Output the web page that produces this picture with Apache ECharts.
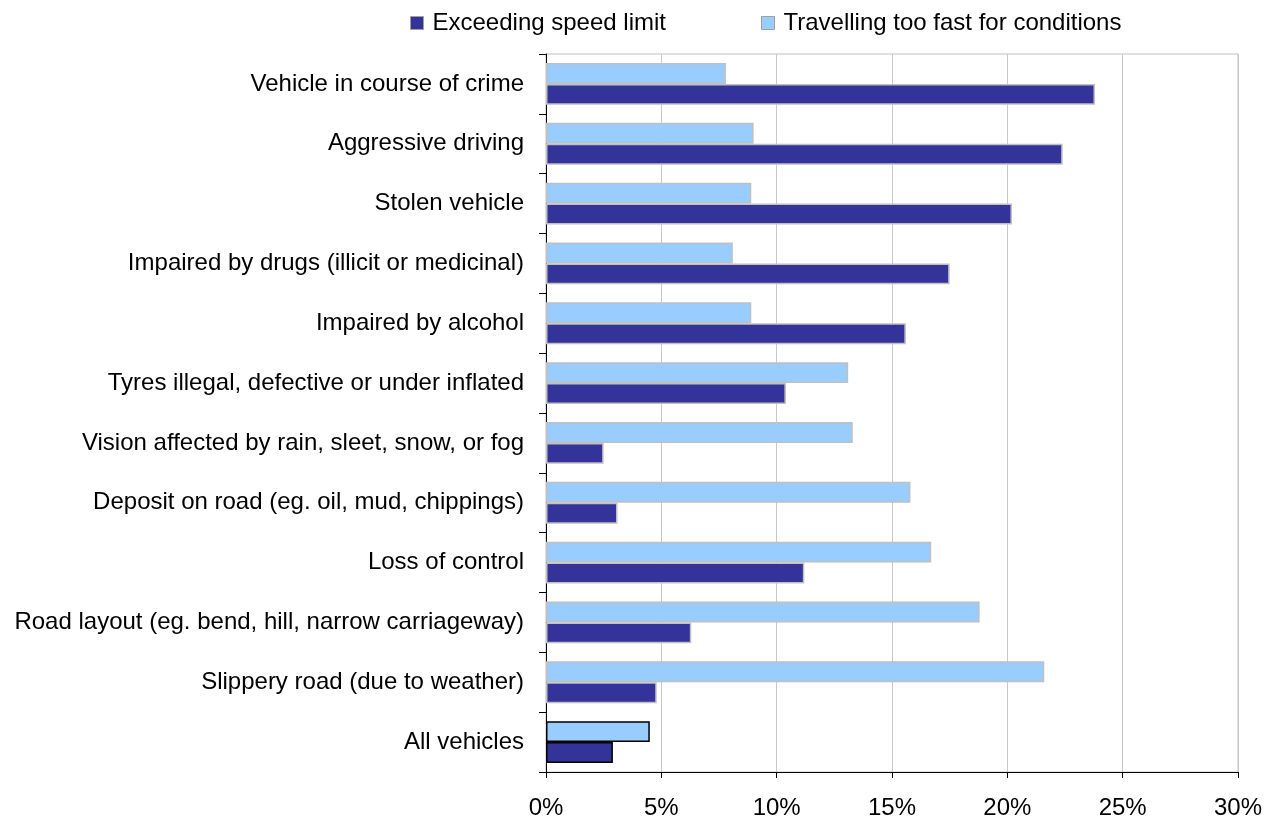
<!DOCTYPE html>
<html><head><meta charset="utf-8">
<script src="https://cdn.jsdelivr.net/npm/echarts@6/dist/echarts.min.js"></script>
<style>html,body{margin:0;padding:0;background:#fff}#c{width:1274px;height:818px}</style>
</head><body><div id="c"></div>
<script>
const categories = [
  "Vehicle in course of crime",
  "Aggressive driving",
  "Stolen vehicle",
  "Impaired by drugs (illicit or medicinal)",
  "Impaired by alcohol",
  "Tyres illegal, defective or under inflated",
  "Vision affected by rain, sleet, snow, or fog",
  "Deposit on road (eg. oil, mud, chippings)",
  "Loss of control",
  "Road layout (eg. bend, hill, narrow carriageway)",
  "Slippery road (due to weather)",
  "All vehicles"
];
const exceedingSpeedLimit = [23.8, 22.4, 20.2, 17.5, 15.6, 10.4, 2.5, 3.1, 11.2, 6.3, 4.8, 2.9];
const tooFastForConditions = [7.8, 9.0, 8.9, 8.1, 8.9, 13.1, 13.3, 15.8, 16.7, 18.8, 21.6, 4.5];
const xTicks = [0, 5, 10, 15, 20, 25, 30];

const FONT = "Liberation Sans";
const FS = 24;
function items(arr) {
  return arr.map((v, i) => i === arr.length - 1
    ? { value: v, itemStyle: { borderColor: "#000000", borderWidth: 1.5 } }
    : v);
}
const legendBase = {
  top: 11, padding: 0, itemWidth: 13, itemHeight: 13, icon: "rect",
  itemStyle: { borderColor: "#a0a0a0", borderWidth: 1 },
  textStyle: { fontFamily: FONT, fontSize: FS, color: "#000", padding: [0, 0, 0, 4] }
};
const chart = echarts.init(document.getElementById("c"), null, { renderer: "canvas" });
chart.setOption({
  animation: false,
  textStyle: { fontFamily: FONT },
  legend: [
    Object.assign({}, legendBase, { left: 410, data: ["Exceeding speed limit"] }),
    Object.assign({}, legendBase, { left: 761, data: ["Travelling too fast for conditions"] })
  ],
  grid: {
    left: 546, right: 36, top: 54, bottom: 46,
    outerBoundsMode: "none", containLabel: false,
    show: true, borderColor: "#c0c0c0", borderWidth: 1
  },
  xAxis: {
    type: "value", min: 0, max: 30, interval: 5,
    axisLine: { show: true, lineStyle: { color: "#000", width: 1 } },
    axisTick: { show: true, length: 6, lineStyle: { color: "#000" } },
    splitLine: { show: true, lineStyle: { color: "#c8c8c8", width: 1 } },
    axisLabel: { formatter: v => xTicks.includes(v) ? v + "%" : "", fontFamily: FONT, fontSize: FS, color: "#000", margin: 24 }
  },
  yAxis: {
    type: "category", data: categories, inverse: true,
    axisLine: { show: true, lineStyle: { color: "#000", width: 1 } },
    axisTick: { show: true, length: 7, lineStyle: { color: "#000" } },
    axisLabel: { fontFamily: FONT, fontSize: FS, color: "#000", margin: 22 },
    splitLine: { show: false }
  },
  series: [
    {
      name: "Travelling too fast for conditions", type: "bar",
      data: items(tooFastForConditions),
      barGap: "0%", barCategoryGap: "30%",
      itemStyle: { color: "#99ccff", borderColor: "#c0c0c0", borderWidth: 1.5 }
    },
    {
      name: "Exceeding speed limit", type: "bar",
      data: items(exceedingSpeedLimit),
      barGap: "0%", barCategoryGap: "30%",
      itemStyle: { color: "#333399", borderColor: "#c0c0c0", borderWidth: 1.5 }
    }
  ]
});
</script></body></html>
